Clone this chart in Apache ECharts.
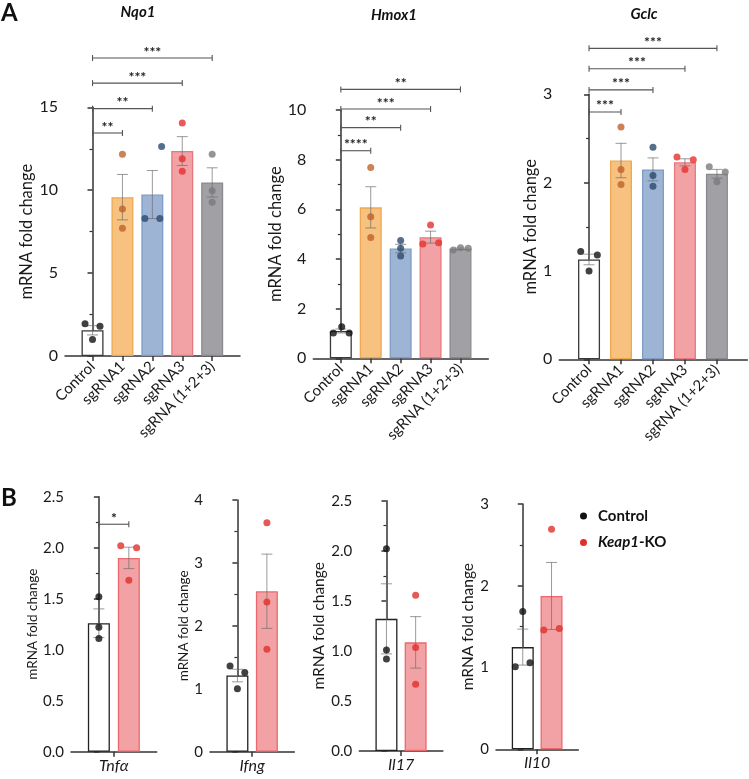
<!DOCTYPE html>
<html><head><meta charset="utf-8">
<script src="https://cdn.jsdelivr.net/npm/echarts@6/dist/echarts.min.js"></script>
<style>html,body{margin:0;padding:0;background:#fff}#c{width:749px;height:779px}</style>
</head><body><div id="c"></div>
<script>
// ---------- DATA ----------
const groupsA = ['Control', 'sgRNA1', 'sgRNA2', 'sgRNA3', 'sgRNA (1+2+3)'];
const groupsB = ['Control', 'Keap1-KO'];

// Panel A: Nqo1
const nqo1YTicks = [0, 5, 10, 15];
const nqo1Points = [[1.95, 1.8, 1.0], [12.17, 8.87, 7.71], [12.63, 8.29, 8.29], [14.05, 11.89, 11.14], [12.17, 9.96, 9.28]];
const nqo1Jitter = [[-0.25, 0.25, 0], [0, 0, 0], [0.31, -0.25, 0.25], [0, 0, 0], [0, 0, 0]];
const nqo1Mean = [1.55, 9.58, 9.74, 12.36, 10.47];
const nqo1Sem = [0.28, 1.37, 1.45, 0.87, 0.88];
const nqo1Sig = [['**', 1, 13.45], ['**', 2, 14.92], ['***', 3, 16.46], ['***', 4, 17.97]];

// Panel A: Hmox1
const hmox1YTicks = [0, 2, 4, 6, 8, 10];
const hmox1Points = [[1.02, 1.27, 1.02], [7.68, 5.70, 4.87], [4.74, 4.43, 4.12], [5.37, 4.60, 4.65], [4.36, 4.45, 4.43]];
const hmox1Jitter = [[-0.25, 0.03, 0.28], [0, 0, 0], [0, 0, 0], [0, -0.26, 0.27], [-0.24, 0, 0.26]];
const hmox1Mean = [1.1, 6.08, 4.42, 4.88, 4.41];
const hmox1Sem = [0.08, 0.83, 0.17, 0.24, 0.03];
const hmox1Sig = [['****', 1, 8.36], ['**', 2, 9.29], ['***', 3, 10.04], ['**', 4, 10.83]];

// Panel A: Gclc
const gclcYTicks = [0, 1, 2, 3];
const gclcPoints = [[1.22, 1.18, 1.0], [2.63, 2.15, 1.98], [2.40, 2.08, 1.96], [2.29, 2.26, 2.15], [2.18, 2.12, 2.01]];
const gclcJitter = [[-0.26, 0.26, 0], [0, 0, 0], [0, 0, 0], [-0.25, 0.26, 0], [-0.24, 0.26, 0]];
const gclcMean = [1.13, 2.25, 2.15, 2.23, 2.10];
const gclcSem = [0.06, 0.195, 0.13, 0.04, 0.05];
const gclcSig = [['***', 1, 2.80], ['***', 2, 3.05], ['***', 3, 3.29], ['***', 4, 3.52]];

// Panel B: Tnfa
const tnfaYTicks = [0, 0.5, 1.0, 1.5, 2.0, 2.5];
const tnfaPoints = [[1.52, 1.22, 1.11], [2.02, 2.0, 1.68]];
const tnfaJitter = [[0, 0, 0], [-0.27, 0.26, 0]];
const tnfaMean = [1.26, 1.9];
const tnfaSem = [0.14, 0.105];
const tnfaSig = [['*', 1, 2.23]];

// Panel B: Ifng
const ifngYTicks = [0, 1, 2, 3, 4];
const ifngPoints = [[1.36, 1.26, 1.0], [3.64, 2.38, 1.63]];
const ifngJitter = [[-0.25, 0.25, 0], [0, 0, 0]];
const ifngMean = [1.21, 2.55];
const ifngSem = [0.1, 0.59];

// Panel B: Il17
const il17YTicks = [0, 0.5, 1.0, 1.5, 2.0, 2.5];
const il17Points = [[2.02, 1.01, 0.92], [1.555, 1.035, 0.666]];
const il17Jitter = [[0, 0, 0], [0, 0, 0]];
const il17Mean = [1.32, 1.085];
const il17Sem = [0.35, 0.257];

// Panel B: Il10
const il10YTicks = [0, 1, 2, 3];
const il10Points = [[1.684, 1.01, 1.06], [2.69, 1.46, 1.476]];
const il10Jitter = [[0, -0.26, 0.25], [0, -0.27, 0.27]];
const il10Mean = [1.25, 1.875];
const il10Sem = [0.22, 0.41];

// ---------- STYLE ----------
const FONT = 'Lato, "Open Sans", sans-serif';
const fillsA = ['#ffffff', '#F7C27F', '#9DB4D5', '#F2A2A5', '#A1A1A5'];
const bordersA = ['#3a3a3a', '#EFA850', '#7E9CC6', '#E7787D', '#8A8A8E'];
const dotsA = ['#111111', '#C0622B', '#2C4A72', '#E5312E', '#7A7A7C'];
const fillsB = ['#ffffff', '#F2A2A5'];
const bordersB = ['#222222', '#E9696E'];
const dotsB = ['#111111', '#E02F2C'];

const panels = [
  {rect: [65, 107.3, 175, 248.7], xr: [-0.92, 4.93], yt: nqo1YTicks, dec: 0, pts: nqo1Points, jit: nqo1Jitter, mean: nqo1Mean, sem: nqo1Sem, sig: nqo1Sig, A: true, gap: 25, nameSize: 16.5},
  {rect: [313.3, 110, 175, 248.3], xr: [-0.92, 4.93], yt: hmox1YTicks, dec: 0, pts: hmox1Points, jit: hmox1Jitter, mean: hmox1Mean, sem: hmox1Sem, sig: hmox1Sig, A: true, gap: 25, nameSize: 16.5},
  {rect: [559.3, 94.3, 188, 265], xr: [-0.93, 4.95], yt: gclcYTicks, dec: 0, pts: gclcPoints, jit: gclcJitter, mean: gclcMean, sem: gclcSem, sig: gclcSig, A: true, gap: 19, nameSize: 16.5},
  {rect: [71, 496.7, 85.7, 255], xr: [-0.93, 1.93], yt: tnfaYTicks, dec: 1, pts: tnfaPoints, jit: tnfaJitter, mean: tnfaMean, sem: tnfaSem, sig: tnfaSig, A: false, gene: 'Tnf\u03b1', gap: 31.5, nameSize: 13.5},
  {rect: [210, 500, 84.3, 251.7], xr: [-0.93, 1.93], yt: ifngYTicks, dec: 0, pts: ifngPoints, jit: ifngJitter, mean: ifngMean, sem: ifngSem, sig: [], A: false, gene: 'Ifng', gap: 18, nameSize: 13.5},
  {rect: [359.3, 500.7, 83.5, 250.3], xr: [-0.93, 1.93], yt: il17YTicks, dec: 1, pts: il17Points, jit: il17Jitter, mean: il17Mean, sem: il17Sem, sig: [], A: false, gene: 'Il17', gap: 29.5, nameSize: 15.5},
  {rect: [496, 504, 82.3, 245.3], xr: [-0.93, 1.93], yt: il10YTicks, dec: 0, pts: il10Points, jit: il10Jitter, mean: il10Mean, sem: il10Sem, sig: [], A: false, gene: 'Il10', gap: 16, nameSize: 15.5}
];

const grids = [], xAxes = [], yAxes = [], series = [];
const axisCol = '#333333';

panels.forEach((p, k) => {
  const fills = p.A ? fillsA : fillsB, borders = p.A ? bordersA : bordersB, dots = p.A ? dotsA : dotsB;
  const n = p.mean.length;
  const idx = p.mean.map((_, i) => i);
  const tickPos = p.A ? idx : [0.5];
  grids.push({left: p.rect[0], top: p.rect[1], width: p.rect[2], height: p.rect[3]});
  xAxes.push({
    gridIndex: k, type: 'value', min: p.xr[0], max: p.xr[1],
    splitLine: {show: false},
    axisLine: {show: true, onZero: false, lineStyle: {color: axisCol, width: 1.5}},
    axisTick: {show: true, customValues: tickPos, length: 5, lineStyle: {color: axisCol, width: 1.5}},
    axisLabel: {
      show: true, customValues: tickPos, rotate: p.A ? 45 : 0, margin: p.A ? 8 : 6,
      fontSize: p.A ? 15 : 16, fontStyle: p.A ? 'normal' : 'italic', fontFamily: FONT, color: '#1a1a1a',
      formatter: v => p.A ? groupsA[Math.round(v)] : p.gene
    }
  });
  const yt = p.yt;
  yAxes.push({
    gridIndex: k, type: 'value', min: yt[0], max: yt[yt.length - 1], interval: yt[1] - yt[0],
    splitLine: {show: false},
    axisLine: {show: true, lineStyle: {color: axisCol, width: 1.5}},
    axisTick: {show: true, length: 5, lineStyle: {color: axisCol, width: 1.5}},
    minorTick: {show: true, splitNumber: 2, length: 3, lineStyle: {color: axisCol, width: 1.2}},
    axisLabel: {fontSize: p.A ? 16 : 15, fontFamily: FONT, color: '#1a1a1a', margin: 7,
      formatter: v => v.toFixed(p.dec)},
    name: 'mRNA fold change', nameLocation: 'middle', nameGap: p.gap,
    nameTextStyle: {fontSize: p.nameSize, fontFamily: FONT, color: '#1a1a1a'}
  });
  // bars
  series.push({
    type: 'bar', xAxisIndex: k, yAxisIndex: k, barWidth: 22, silent: true, z: 2,
    data: p.mean.map((m, i) => ({value: [i, m], itemStyle: {color: fills[i], borderColor: borders[i], borderWidth: 1.3}}))
  });
  // error bars
  series.push({
    type: 'custom', xAxisIndex: k, yAxisIndex: k, silent: true, z: 3,
    data: p.mean.map((m, i) => [i, m, p.sem[i]]),
    renderItem: (params, api) => {
      const x = api.value(0), m = api.value(1), s = api.value(2);
      const t = api.coord([x, m + s]), b = api.coord([x, m - s]);
      const st = {stroke: 'rgba(110,110,110,0.7)', lineWidth: 1};
      return {type: 'group', children: [
        {type: 'line', shape: {x1: t[0], y1: t[1], x2: b[0], y2: b[1]}, style: st},
        {type: 'line', shape: {x1: t[0] - 5.5, y1: t[1], x2: t[0] + 5.5, y2: t[1]}, style: st},
        {type: 'line', shape: {x1: b[0] - 5.5, y1: b[1], x2: b[0] + 5.5, y2: b[1]}, style: st}
      ]};
    }
  });
  // points
  const pd = [];
  p.pts.forEach((arr, i) => arr.forEach((v, j) => pd.push({value: [i + p.jit[i][j], v], itemStyle: {color: dots[i]}})));
  series.push({type: 'scatter', xAxisIndex: k, yAxisIndex: k, symbolSize: 7, silent: true, z: 4, data: pd});
  // significance brackets
  if (p.sig.length) {
    series.push({
      type: 'custom', xAxisIndex: k, yAxisIndex: k, silent: true, z: 5, clip: false,
      data: p.sig.map(s => [s[1], s[2]]),
      renderItem: (params, api) => {
        const lab = p.sig[params.dataIndex][0];
        const a = api.coord([0, api.value(1)]), b = api.coord([api.value(0), api.value(1)]);
        const st = {stroke: '#555', lineWidth: 1.1};
        return {type: 'group', children: [
          {type: 'line', shape: {x1: a[0], y1: a[1], x2: b[0], y2: b[1]}, style: st},
          {type: 'line', shape: {x1: a[0], y1: a[1] - 3, x2: a[0], y2: a[1] + 3}, style: st},
          {type: 'line', shape: {x1: b[0], y1: b[1] - 3, x2: b[0], y2: b[1] + 3}, style: st},
          {type: 'text', x: (a[0] + b[0]) / 2, y: a[1] - 6, style: {text: lab, fill: '#222', font: 'bold 14px ' + FONT, align: 'center', verticalAlign: 'middle'}}
        ]};
      }
    });
  }
});

const graphic = [
  {type: 'text', x: 1, y: 1, style: {text: 'A', font: 'bold 24px ' + FONT, fill: '#111'}},
  {type: 'text', x: 1, y: 486, style: {text: 'B', font: 'bold 24px ' + FONT, fill: '#111'}},
  {type: 'text', x: 138, y: 12, style: {text: 'Nqo1', font: 'italic bold 15px ' + FONT, fill: '#111', align: 'center', verticalAlign: 'middle'}},
  {type: 'text', x: 394, y: 15, style: {text: 'Hmox1', font: 'italic bold 15px ' + FONT, fill: '#111', align: 'center', verticalAlign: 'middle'}},
  {type: 'text', x: 644, y: 14, style: {text: 'Gclc', font: 'italic bold 15px ' + FONT, fill: '#111', align: 'center', verticalAlign: 'middle'}},
  {type: 'circle', shape: {cx: 583.5, cy: 516, r: 3.5}, style: {fill: dotsB[0]}},
  {type: 'text', x: 598, y: 516, style: {text: groupsB[0], font: 'bold 15px ' + FONT, fill: '#111', verticalAlign: 'middle'}},
  {type: 'circle', shape: {cx: 583.5, cy: 542.5, r: 3.5}, style: {fill: dotsB[1]}},
  {type: 'text', x: 598, y: 542.5, style: {text: '{i|Keap1}{b|-KO}', verticalAlign: 'middle',
    rich: {i: {font: 'italic bold 15px ' + FONT, fill: '#111'}, b: {font: 'bold 15px ' + FONT, fill: '#111'}}}}
];

const chart = echarts.init(document.getElementById('c'), null, {renderer: 'canvas'});
chart.setOption({animation: false, backgroundColor: '#fff', grid: grids, xAxis: xAxes, yAxis: yAxes, series: series, graphic: graphic});
</script></body></html>
